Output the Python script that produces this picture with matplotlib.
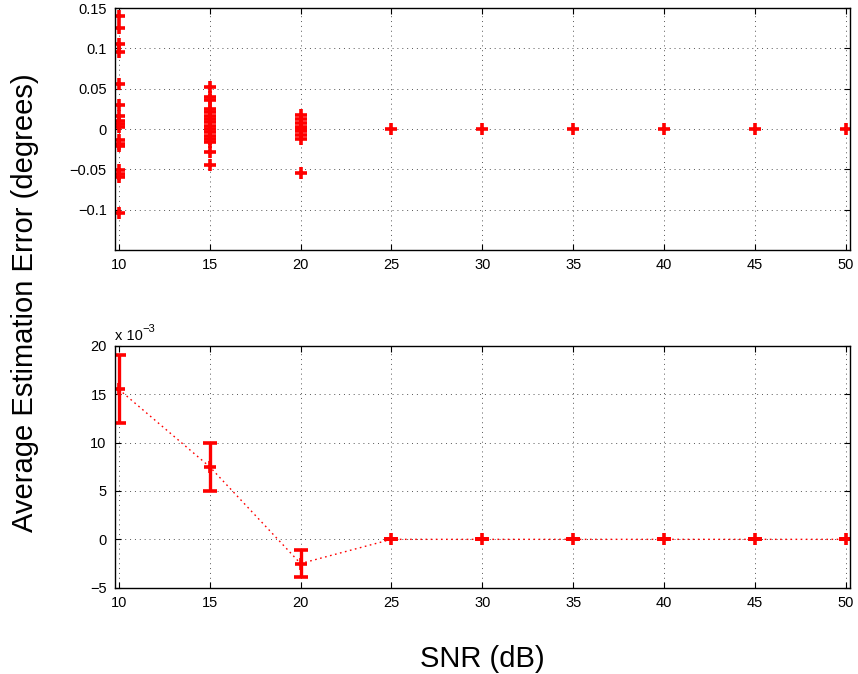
import numpy as np
import matplotlib
matplotlib.use("Agg")
import matplotlib.pyplot as plt

plt.rcParams["font.family"] = ["Liberation Sans", "DejaVu Sans"]

# SNR levels (dB)
snr = [10, 15, 20, 25, 30, 35, 40, 45, 50]

# per-trial estimation errors (degrees)
err_10 = [0.140, 0.125, 0.105, 0.095, 0.0556, 0.0296, 0.0156, 0.0106, 0.0065,
          0.0025, -0.013, -0.018, -0.021, -0.051, -0.056, -0.060, -0.1046]
err_15 = [0.052, 0.040, 0.036, 0.0255, 0.0206, 0.0165, 0.0123, 0.0082, 0.004,
          0.0, -0.004, -0.008, -0.0123, -0.0156, -0.028, -0.0444]
err_20 = [0.017, 0.012, 0.007, 0.003, 0.0, -0.003, -0.007, -0.012, -0.054]
err_rest = [0.0]
trials = [err_10, err_15, err_20] + [err_rest] * 6

# mean error and spread (x 1e-3 degrees), bottom panel
mean_err = [15.5, 7.5, -2.5, 0, 0, 0, 0, 0, 0]
spread = [3.5, 2.5, 1.4, 0, 0, 0, 0, 0, 0]

RED = "#ff0000"

fig = plt.figure(figsize=(8.58, 6.74), dpi=100)
ax1 = fig.add_axes([0.134, 0.629, 0.857, 0.359])
ax2 = fig.add_axes([0.134, 0.128, 0.857, 0.359])

for s, vals in zip(snr, trials):
    ax1.plot([s] * len(vals), vals, "+", color=RED, markersize=8, mew=2.6, linestyle="none")

ax1.set_ylim(-0.15, 0.15)
ax1.set_yticks([-0.1, -0.05, 0, 0.05, 0.1, 0.15])
ax1.set_yticklabels(["\u22120.1", "\u22120.05", "0", "0.05", "0.1", "0.15"])

ax2.plot(snr, mean_err, color=RED, lw=1.0, linestyle=(0, (1.2, 2.5)))
ax2.errorbar(snr, mean_err, yerr=spread, fmt="+", color=RED, ecolor=RED,
             elinewidth=2.4, capsize=5, capthick=2.4, markersize=9, mew=2.6)
ax2.set_ylim(-5, 20)
ax2.set_yticks([-5, 0, 5, 10, 15, 20])
ax2.set_yticklabels(["\u22125", "0", "5", "10", "15", "20"])
ax2.text(0.0, 1.01, "x 10", transform=ax2.transAxes,
         fontsize=10.5, ha="left", va="bottom")
ax2.text(0.037, 1.05, "\u22123", transform=ax2.transAxes,
         fontsize=8, ha="left", va="bottom")

for ax in (ax1, ax2):
    ax.set_xlim(9.79, 50.24)
    ax.set_xticks(snr)
    ax.grid(True, color="#555555", linestyle=(0, (1, 4)), linewidth=0.7)
    ax.tick_params(direction="in", length=4, pad=6, top=True, right=True, labelsize=10.5)
    for sp in ax.spines.values():
        sp.set_linewidth(1.0)

fig.text(0.029, 0.551, "Average Estimation Error (degrees)", rotation=90,
         fontsize=21, ha="center", va="center")
fig.text(0.562, 0.011, "SNR (dB)", fontsize=21, ha="center", va="baseline")

fig.savefig("out.png", dpi=100)
